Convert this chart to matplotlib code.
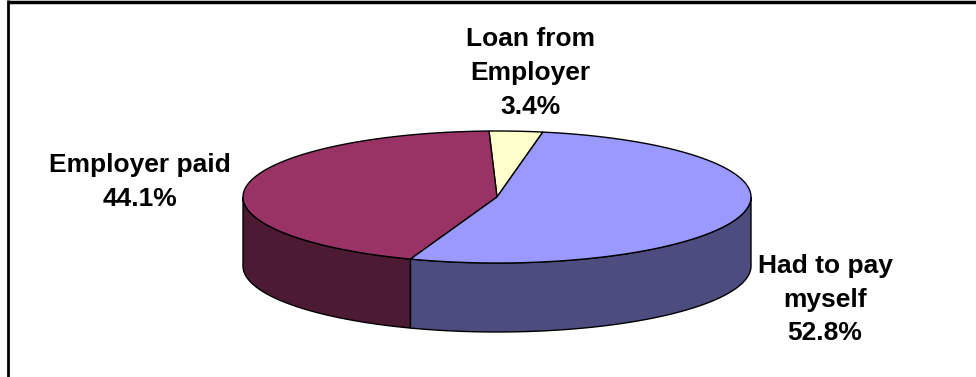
import matplotlib
matplotlib.use('Agg')
import matplotlib.pyplot as plt
import numpy as np
from matplotlib.patches import Polygon

plt.rcParams['font.family'] = ['Liberation Sans', 'DejaVu Sans']

# slices, counter-clockwise from the loan wedge
labels = ['Loan from\nEmployer', 'Employer paid', 'Had to pay\nmyself']
values = [3.4, 44.1, 52.8]
top_colors = ['#ffffcc', '#993366', '#9999ff']
side_colors = ['#80806a', '#4d1a33', '#4c4c7e']

# ellipse in pixel coordinates
cx, cy = 497, 197
rx, ry = 254, 66
depth = 69
start = 79.6

fig = plt.figure(figsize=(9.76, 3.77), dpi=100)
ax = fig.add_axes([0, 0, 1, 1])
ax.set_xlim(0, 976)
ax.set_ylim(377, 0)
ax.axis('off')

def rim(t):
    t = np.radians(t)
    return cx + rx*np.cos(t), cy - ry*np.sin(t)

vals = np.array(values)
spans = vals / vals.sum() * 360
edges = start + np.concatenate([[0], np.cumsum(spans)])

# side walls, only the front half (180..360 deg) shows
for i in range(len(values)):
    t0, t1 = edges[i], edges[i+1]
    for off in (0, 360, -360):
        a0 = max(t0 + off, 180)
        a1 = min(t1 + off, 360)
        if a1 <= a0:
            continue
        t = np.linspace(a0, a1, 120)
        x, y = rim(t)
        pts = np.concatenate([np.column_stack([x, y]),
                              np.column_stack([x[::-1], y[::-1] + depth])])
        ax.add_patch(Polygon(pts, closed=True, fc=side_colors[i], ec='black', lw=1))

# top face wedges
for i in range(len(values)):
    t = np.linspace(edges[i], edges[i+1], 200)
    x, y = rim(t)
    pts = np.concatenate([[[cx, cy]], np.column_stack([x, y])])
    ax.add_patch(Polygon(pts, closed=True, fc=top_colors[i], ec='black', lw=1))

# data labels
label_pos = [(530, 73), (140, 182), (825, 300)]
for lab, v, (lx, ly) in zip(labels, values, label_pos):
    ax.text(lx, ly, '%s\n%.1f%%' % (lab, v), ha='center', va='center',
            fontsize=19, fontweight='bold', linespacing=1.5)

# chart frame (top and left edges)
ax.plot([8, 976], [1.5, 1.5], color='black', lw=2.5, solid_capstyle='butt')
ax.plot([8, 8], [0, 377], color='black', lw=2, solid_capstyle='butt')

fig.savefig('out.png', dpi=100)
